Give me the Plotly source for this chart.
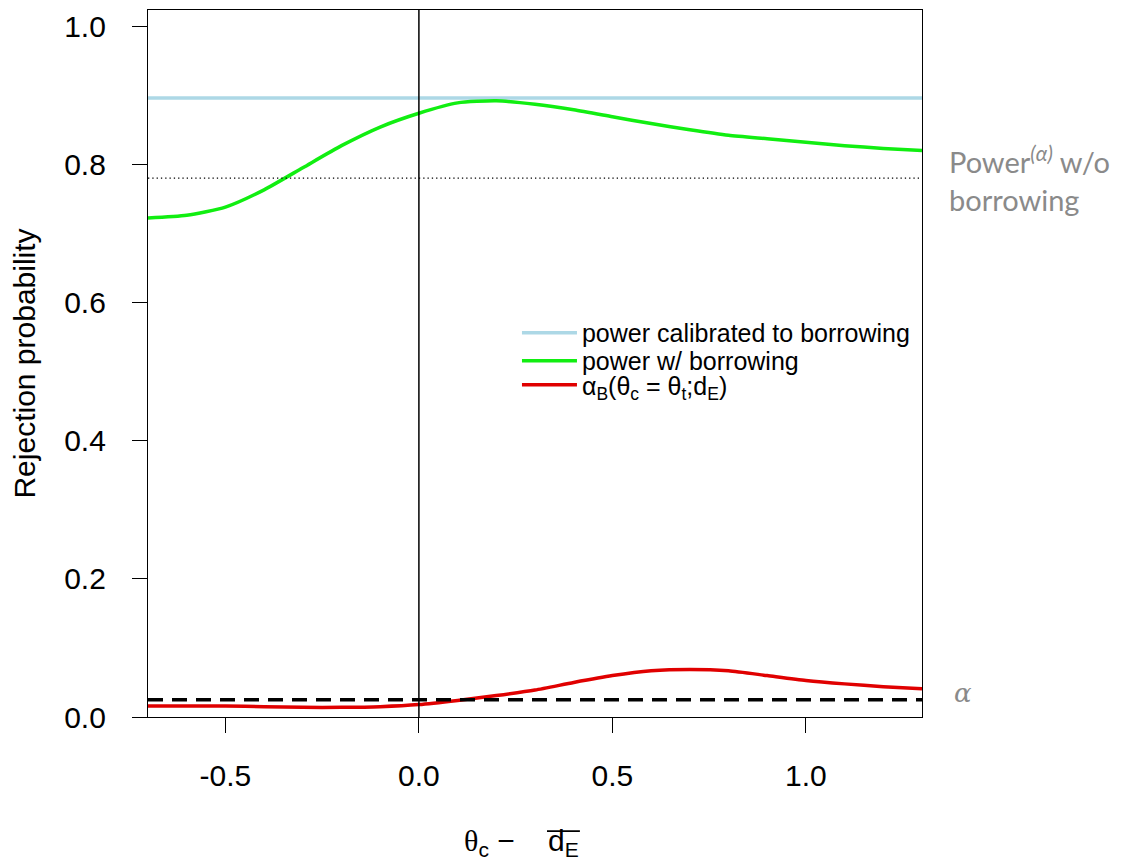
import plotly.graph_objects as go

# ---- data ----
x_vals = [-0.7, -0.6, -0.5, -0.4, -0.3, -0.2, -0.1, 0.0, 0.1, 0.2, 0.3,
          0.4, 0.5, 0.6, 0.7, 0.8, 0.9, 1.0, 1.1, 1.2, 1.3]
power_borrow = [0.723, 0.727, 0.739, 0.764, 0.796, 0.828, 0.855, 0.875, 0.890,
                0.893, 0.888, 0.880, 0.870, 0.860, 0.851, 0.843, 0.838, 0.833,
                0.828, 0.824, 0.821]
alpha_b = [0.016, 0.016, 0.016, 0.015, 0.014, 0.014, 0.015, 0.018, 0.024,
           0.031, 0.039, 0.050, 0.060, 0.067, 0.069, 0.067, 0.060, 0.053,
           0.048, 0.044, 0.041]
power_calibrated = 0.897
power_without = 0.781
alpha_level = 0.025
vline_x = 0.0
x_ticks = [-0.5, 0.0, 0.5, 1.0]
y_ticks = [0.0, 0.2, 0.4, 0.6, 0.8, 1.0]
x_range = [-0.7, 1.3]
y_range = [0.0, 1.0246]

FONT = "Liberation Sans, Arial, sans-serif"
GREY = "#8a8a8a"
LEG_FONT = dict(size=25, family=FONT, color="black")

fig = go.Figure()

fig.add_trace(go.Scatter(x=x_range, y=[power_calibrated] * 2, mode="lines",
                         line=dict(color="#add8e6", width=3.5),
                         name="power calibrated to borrowing", legend="legend"))
fig.add_trace(go.Scatter(x=x_vals, y=power_borrow, mode="lines",
                         line=dict(color="#11ee11", width=3.5, shape="spline", smoothing=0.6),
                         name="power w/ borrowing", legend="legend2"))
fig.add_trace(go.Scatter(x=x_vals, y=alpha_b, mode="lines",
                         line=dict(color="#e00000", width=3.5, shape="spline", smoothing=0.6),
                         name="α<sub>B</sub>(θ<sub>c</sub> = θ<sub>t</sub>;d<sub>E</sub>)",
                         legend="legend3"))
fig.add_trace(go.Scatter(x=x_range, y=[power_without] * 2, mode="lines",
                         line=dict(color="black", width=1.3, dash="1.3px,3px"),
                         showlegend=False))
fig.add_trace(go.Scatter(x=x_range, y=[alpha_level] * 2, mode="lines",
                         line=dict(color="black", width=3.5, dash="15px,9px"),
                         showlegend=False))

fig.add_vline(x=vline_x, line=dict(color="black", width=1.5))

leg_common = dict(x=0.4767, xanchor="left", yanchor="top",
                  bgcolor="rgba(0,0,0,0)", font=LEG_FONT, itemwidth=55)

fig.update_layout(
    width=1113, height=853,
    margin=dict(l=140, r=199, t=2, b=144),
    paper_bgcolor="white", plot_bgcolor="white",
    font=dict(family=FONT, size=30, color="black"),
    showlegend=True,
    legend=dict(y=0.5757, **leg_common),
    legend2=dict(y=0.5361, **leg_common),
    legend3=dict(y=0.5021, **leg_common),
    xaxis=dict(range=x_range, tickvals=x_ticks,
               ticktext=["-0.5", "0.0", "0.5", "1.0"],
               showgrid=False, zeroline=False, showline=True, mirror=True,
               linecolor="black", linewidth=1.3, ticks="outside", ticklen=15,
               tickwidth=1.3, tickcolor="black", ticklabelstandoff=17,
               tickfont=dict(size=30)),
    yaxis=dict(range=y_range, tickvals=y_ticks,
               ticktext=["0.0", "0.2", "0.4", "0.6", "0.8", "1.0"],
               showgrid=False, zeroline=False, showline=True, mirror=True,
               linecolor="black", linewidth=1.3, ticks="outside", ticklen=15,
               tickwidth=1.3, tickcolor="black", ticklabelstandoff=20,
               tickfont=dict(size=30),
               title=dict(text="Rejection probability", font=dict(size=30), standoff=25)),
)

# x-axis title (overline over d_E drawn as a decoration line)
fig.add_annotation(
    xref="paper", yref="paper", x=0.482, y=-0.1775, xanchor="center", yanchor="middle",
    text="<span style='font-family:Liberation Serif,Times New Roman,serif'>θ</span><sub>c</sub> − "
         "\u00a0\u00a0\u00a0d<sub>E</sub>",
    showarrow=False, font=dict(size=30, family=FONT))
fig.add_shape(type="line", xref="paper", yref="paper",
              x0=0.5155, x1=0.558, y0=-0.1615, y1=-0.1615,
              line=dict(color="black", width=1.8))

# right-hand notes
fig.add_annotation(
    xref="paper", yref="paper", x=1.0325, y=0.762, xanchor="left", yanchor="middle",
    text="Power<sup><span style='font-size:21px'><i>(α)</i></span></sup> w/o<br>borrowing",
    align="left",
    showarrow=False, font=dict(size=29, family="Lato, Open Sans, sans-serif", color=GREY))
fig.add_annotation(
    xref="paper", yref="paper", x=1.0385, y=0.034, xanchor="left", yanchor="middle",
    text="<i>α</i>", showarrow=False,
    font=dict(size=26, family="DejaVu Serif, serif", color=GREY))

fig.write_html("out.html")
